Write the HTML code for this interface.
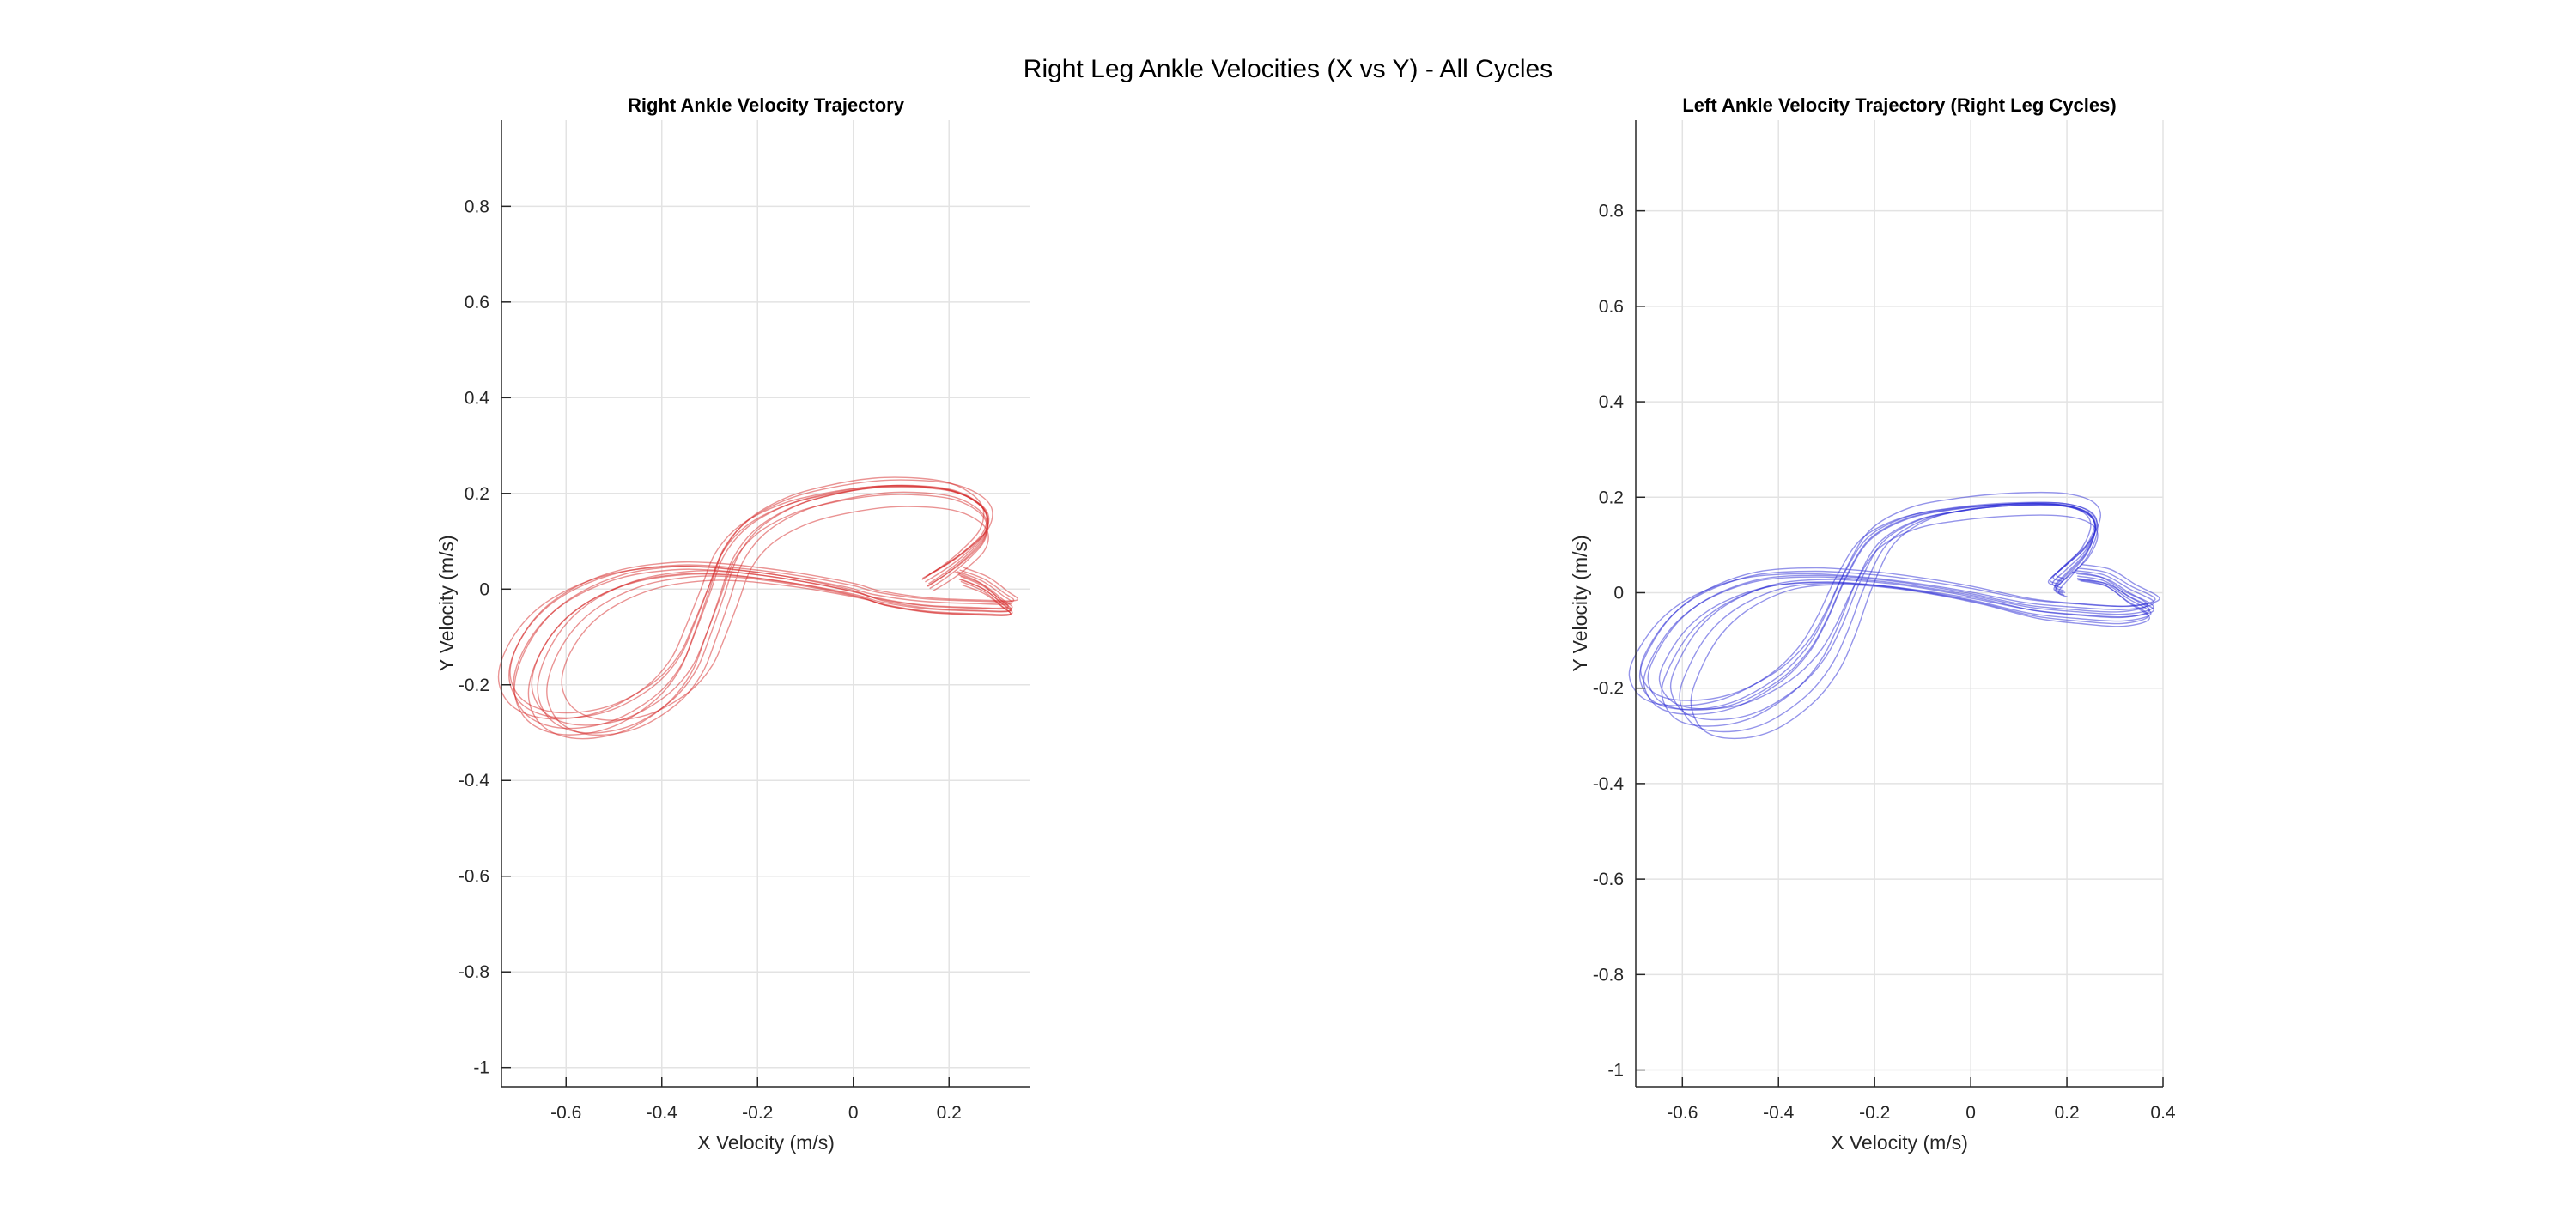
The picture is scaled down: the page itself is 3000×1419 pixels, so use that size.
<!DOCTYPE html>
<html><head><meta charset="utf-8"><style>
html,body{margin:0;padding:0;background:#fff;}
svg{display:block;font-family:"Liberation Sans",Arial,sans-serif;}
</style></head><body>
<svg id="fig" width="3000" height="1419" viewBox="0 0 3000 1419" xmlns="http://www.w3.org/2000/svg">
<rect width="3000" height="1419" fill="#fff"/>
<text x="1500" y="90" text-anchor="middle" font-size="30" fill="#000">Right Leg Ankle Velocities (X vs Y) - All Cycles</text>
</svg>
<script>
const rightBaseX=[0.22,0.27,0.31,0.33,0.26,0.15,0.05,0.00,-0.10,-0.20,-0.30,-0.38,-0.48,-0.57,-0.64,-0.69,-0.71,-0.69,-0.64,-0.57,-0.49,-0.41,-0.36,-0.33,-0.30,-0.27,-0.22,-0.14,-0.05,0.05,0.14,0.21,0.26,0.28,0.27,0.23,0.19,0.15];
const rightBaseY=[0.03,0.01,-0.02,-0.04,-0.04,-0.035,-0.02,-0.005,0.015,0.03,0.04,0.04,0.025,-0.01,-0.06,-0.13,-0.20,-0.255,-0.285,-0.29,-0.27,-0.22,-0.16,-0.09,-0.01,0.07,0.13,0.175,0.20,0.215,0.215,0.205,0.18,0.15,0.11,0.07,0.04,0.015];
const rightScaleX=[1.00,0.97,1.03,0.95,1.01,0.93,0.99,1.02,0.96,0.90];
const rightScaleY=[1.00,1.04,0.96,1.02,0.93,1.00,1.06,0.98,0.95,0.88];
const rightShiftX=[0.00,0.01,-0.01,0.015,0.00,0.02,-0.005,0.005,0.01,0.03];
const rightShiftY=[0.000,-0.010,0.008,-0.004,0.012,-0.014,0.004,0.016,-0.008,-0.018];

const leftBaseX=[0.22,0.28,0.33,0.38,0.32,0.22,0.12,0.00,-0.10,-0.20,-0.32,-0.44,-0.54,-0.61,-0.66,-0.68,-0.65,-0.58,-0.49,-0.40,-0.34,-0.30,-0.26,-0.21,-0.13,-0.03,0.08,0.18,0.24,0.26,0.24,0.20,0.17,0.19];
const leftBaseY=[0.04,0.03,0.00,-0.03,-0.045,-0.04,-0.03,-0.005,0.012,0.025,0.033,0.025,-0.01,-0.06,-0.13,-0.19,-0.24,-0.255,-0.24,-0.19,-0.13,-0.06,0.03,0.11,0.155,0.175,0.185,0.185,0.17,0.14,0.09,0.05,0.02,0.01];
const leftScaleX=[1.00,0.96,1.03,0.94,1.01,0.92,0.98,1.02,0.97,0.90];
const leftScaleY=[1.00,1.05,0.96,1.02,0.94,1.08,0.98,1.03,0.92,1.12];
const leftShiftX=[0.00,0.01,-0.01,0.015,0.00,0.02,-0.005,0.005,0.012,0.03];
const leftShiftY=[0.000,-0.012,0.008,-0.006,0.014,-0.016,0.004,0.018,-0.009,-0.020];

const xTicksR=[-0.6,-0.4,-0.2,0,0.2];
const xTicksL=[-0.6,-0.4,-0.2,0,0.2,0.4];
const yTicks=[-1,-0.8,-0.6,-0.4,-0.2,0,0.2,0.4,0.6,0.8];

const NS="http://www.w3.org/2000/svg";
const svg=document.getElementById('fig');
function el(tag,attrs,parent){const e=document.createElementNS(NS,tag);for(const k in attrs)e.setAttribute(k,attrs[k]);(parent||svg).appendChild(e);return e;}
function fmt(v){if(v===0)return '0';let s=String(Math.round(v*10)/10);return s;}

function panel(cfg){
  const g=el('g',{});
  
  
  const sx=v=>cfg.px0+(v-cfg.x0)/(cfg.x1-cfg.x0)*(cfg.px1-cfg.px0);
  const sy=v=>cfg.py1-(v-cfg.y0)/(cfg.y1-cfg.y0)*(cfg.py1-cfg.py0);
  cfg.xt.forEach(t=>{const l=el('line',{x1:sx(t),x2:sx(t),y1:cfg.py0,y2:cfg.py1,stroke:'#e3e3e3','stroke-width':1.5},g);});
  yTicks.forEach(t=>{const l=el('line',{x1:cfg.px0,x2:cfg.px1,y1:sy(t),y2:sy(t),stroke:'#e3e3e3','stroke-width':1.5},g);});
  const n=cfg.sxArr.length;
  for(let c=0;c<n;c++){
    const pts=cfg.bx.map((x,i)=>[sx(x*cfg.sxArr[c]+cfg.shArr[c]),sy(cfg.by[i]*cfg.syArr[c]+cfg.shyArr[c])]);
    let d='M'+pts[0][0].toFixed(1)+','+pts[0][1].toFixed(1);
    for(let i=0;i<pts.length-1;i++){
      const p0=pts[Math.max(0,i-1)],p1=pts[i],p2=pts[i+1],p3=pts[Math.min(pts.length-1,i+2)];
      const c1=[p1[0]+(p2[0]-p0[0])/6,p1[1]+(p2[1]-p0[1])/6],c2=[p2[0]-(p3[0]-p1[0])/6,p2[1]-(p3[1]-p1[1])/6];
      d+=' C'+c1[0].toFixed(1)+','+c1[1].toFixed(1)+' '+c2[0].toFixed(1)+','+c2[1].toFixed(1)+' '+p2[0].toFixed(1)+','+p2[1].toFixed(1);
    }
    const p=el('path',{d:d,fill:'none',stroke:cfg.color,'stroke-width':1.4,'stroke-opacity':0.5},g);
    
    
  }
  const ya=el('line',{x1:cfg.px0,x2:cfg.px0,y1:cfg.py0,y2:cfg.py1,stroke:'#262626','stroke-width':1.5},g);
  
  const xa=el('line',{x1:cfg.px0,x2:cfg.px1,y1:cfg.py1,y2:cfg.py1,stroke:'#262626','stroke-width':1.5},g);
  
  cfg.xt.forEach(t=>{
    el('line',{x1:sx(t),x2:sx(t),y1:cfg.py1,y2:cfg.py1-11,stroke:'#262626','stroke-width':1.5},g);
    const tx=el('text',{x:sx(t),y:cfg.py1+37,'text-anchor':'middle','font-size':21,fill:'#262626'},g);
    tx.textContent=fmt(t);
    
  });
  yTicks.forEach(t=>{
    el('line',{x1:cfg.px0,x2:cfg.px0+11,y1:sy(t),y2:sy(t),stroke:'#262626','stroke-width':1.5},g);
    const tx=el('text',{x:cfg.px0-14,y:sy(t)+7,'text-anchor':'end','font-size':21,fill:'#262626'},g);
    tx.textContent=fmt(t);
    
  });
  const tt=el('text',{x:(cfg.px0+cfg.px1)/2,y:cfg.py0-10,'text-anchor':'middle','font-size':22,'font-weight':'bold',fill:'#000'},g);
  tt.textContent=cfg.title;
  const xl=el('text',{x:(cfg.px0+cfg.px1)/2,y:cfg.py1+73,'text-anchor':'middle','font-size':23,fill:'#262626'},g);
  xl.textContent='X Velocity (m/s)';
  const yx=cfg.ylx,yy=(cfg.py0+cfg.py1)/2;
  const yl=el('text',{x:yx,y:yy,'text-anchor':'middle','font-size':23,fill:'#262626',transform:'rotate(-90 '+yx+' '+yy+')'},g);
  yl.textContent='Y Velocity (m/s)';
}
panel({name:'right-ankle-panel',title:'Right Ankle Velocity Trajectory',px0:584,px1:1200,py0:140,py1:1266,x0:-0.735,x1:0.370,y0:-1.04,y1:0.98,xt:xTicksR,bx:rightBaseX,by:rightBaseY,sxArr:rightScaleX,syArr:rightScaleY,shArr:rightShiftX,shyArr:rightShiftY,color:'#d62728',ylx:528});
panel({name:'left-ankle-panel',title:'Left Ankle Velocity Trajectory (Right Leg Cycles)',px0:1905,px1:2519,py0:140,py1:1266,x0:-0.697,x1:0.4,y0:-1.035,y1:0.99,xt:xTicksL,bx:leftBaseX,by:leftBaseY,sxArr:leftScaleX,syArr:leftScaleY,shArr:leftShiftX,shyArr:leftShiftY,color:'#2a2ad6',ylx:1848});
</script>
</body></html>
